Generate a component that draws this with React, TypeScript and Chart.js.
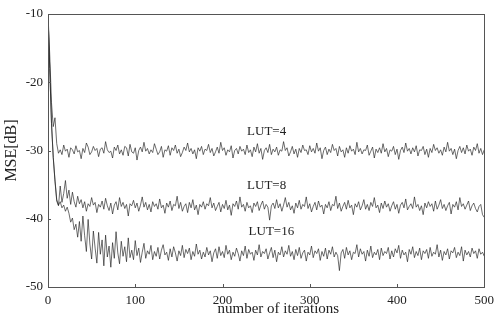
import React, { useEffect, useRef } from "react";
import { Chart, registerables } from "chart.js";

Chart.register(...registerables);

const STEP = 2;

const lut4: number[] = [
  -10, -16, -23, -26.5, -25.2, -29.0, -30.4, -29.9, -30.6, -29.2,
  -30.1, -29.8, -31.0, -29.6, -29.9, -30.5, -29.3, -30.2, -30.0, -31.2,
  -29.7, -30.3, -28.9, -29.5, -30.6, -30.2, -29.4, -30.0, -29.7, -30.9,
  -29.8, -29.6, -30.4, -28.7, -29.9, -30.3, -30.1, -31.1, -29.5, -30.0,
  -29.2, -30.5, -29.9, -30.7, -29.4, -29.6, -30.8, -29.1, -30.2, -30.4,
  -29.6, -31.4, -30.0, -29.5, -30.2, -28.8, -30.1, -29.7, -30.5, -29.9,
  -30.3, -29.0, -29.8, -30.6, -30.2, -29.4, -31.0, -29.9, -30.1, -29.3,
  -30.7, -29.6, -30.0, -29.2, -30.4, -29.8, -30.9, -30.3, -29.5, -30.0,
  -28.9, -30.2, -29.7, -30.5, -29.9, -31.2, -29.6, -30.1, -29.4, -30.6,
  -29.8, -30.0, -29.1, -30.3, -29.7, -30.8, -30.2, -29.5, -30.4, -28.8,
  -30.0, -29.6, -30.7, -29.9, -30.2, -29.3, -31.1, -30.0, -29.7, -30.5,
  -29.4, -30.1, -29.8, -30.6, -29.2, -30.3, -29.9, -30.9, -29.5, -30.2,
  -29.0, -30.4, -29.7, -31.3, -30.0, -29.6, -30.3, -29.1, -30.6, -29.8,
  -30.2, -29.5, -30.7, -29.9, -30.1, -28.7, -30.0, -29.6, -30.8, -30.2,
  -29.4, -30.5, -29.8, -31.0, -29.7, -30.3, -29.2, -30.0, -29.9, -30.6,
  -29.3, -30.2, -29.7, -30.4, -28.9, -30.1, -29.6, -31.2, -30.0, -29.5,
  -30.6, -29.8, -30.3, -29.1, -30.0, -29.7, -30.8, -29.4, -30.2, -29.9,
  -31.0, -29.6, -30.4, -29.3, -30.1, -29.8, -30.6, -28.8, -30.2, -29.7,
  -30.5, -29.9, -30.0, -29.2, -30.7, -30.1, -29.5, -31.1, -29.8, -30.3,
  -29.6, -30.4, -29.0, -30.2, -29.7, -30.9, -29.9, -30.1, -29.4, -30.6,
  -29.8, -31.3, -30.0, -29.5, -30.3, -28.9, -30.1, -29.7, -30.5, -29.6,
  -30.2, -29.3, -30.8, -29.9, -30.0, -29.4, -30.6, -29.8, -31.0, -29.7,
  -30.3, -29.1, -30.0, -29.6, -30.4, -29.9, -30.7, -29.5, -30.2, -28.8,
  -30.1, -29.7, -30.6, -29.8, -31.2, -30.0, -29.4, -30.3, -29.6, -30.5,
  -29.2, -30.1, -29.8, -30.7, -29.5, -30.0, -29.0, -30.4, -29.7, -30.6, -29.9,
];

const lut8: number[] = [
  -10, -18, -26, -31, -34.5, -37.4, -38.1, -35.2, -37.6, -36.3,
  -34.4, -37.0, -35.8, -37.9, -36.1, -37.5, -38.3, -36.7, -37.8, -37.2,
  -38.4, -37.5, -38.9, -37.8, -38.2, -36.9, -38.0, -37.6, -39.1, -37.9,
  -38.3, -37.4, -38.6, -37.0, -38.1, -38.8, -37.7, -39.3, -38.0, -37.5,
  -38.7, -36.9, -38.2, -37.6, -38.5, -37.9, -39.6, -37.8, -38.1, -37.3,
  -38.4, -37.7, -38.9, -38.0, -36.8, -38.3, -37.6, -38.7, -37.9, -39.0,
  -37.5, -38.2, -37.8, -38.6, -37.1, -38.4, -38.0, -39.2, -37.7, -38.3,
  -37.4, -38.8, -37.9, -38.1, -36.7, -38.5, -37.6, -38.9, -38.2, -37.8,
  -39.1, -37.6, -38.4, -37.2, -38.7, -38.0, -39.4, -37.9, -38.3, -37.5,
  -38.6, -37.8, -38.1, -36.9, -38.4, -37.7, -38.8, -38.2, -37.6, -39.0,
  -37.9, -38.5, -37.3, -38.7, -38.0, -39.5, -37.8, -38.2, -37.4, -38.6,
  -36.8, -38.3, -37.9, -38.9, -37.6, -38.4, -38.1, -39.1, -37.7, -38.2,
  -37.5, -38.8, -38.0, -37.4, -38.6, -37.9, -38.3, -40.2, -38.1, -37.7,
  -38.5, -37.2, -38.4, -37.8, -38.9, -38.0, -36.9, -38.3, -37.6, -38.7,
  -38.1, -39.2, -37.7, -38.4, -37.3, -38.6, -37.9, -38.2, -36.8, -38.5,
  -37.8, -39.0, -38.2, -37.6, -38.7, -37.4, -38.3, -38.0, -39.3, -37.9,
  -38.4, -37.5, -38.8, -37.9, -38.1, -36.7, -38.5, -37.7, -38.9, -38.2,
  -37.6, -38.6, -37.3, -38.4, -38.0, -39.4, -37.8, -38.3, -37.5, -38.7,
  -38.1, -37.2, -38.6, -37.9, -38.8, -37.6, -38.2, -36.9, -38.4, -38.0,
  -39.1, -37.7, -38.5, -37.4, -38.3, -37.8, -38.9, -38.1, -37.5, -38.6,
  -37.9, -39.2, -38.0, -37.6, -38.4, -37.1, -38.7, -38.2, -37.8, -38.5,
  -36.8, -38.3, -37.9, -38.8, -38.1, -39.4, -37.7, -38.4, -37.5, -38.2,
  -37.8, -38.9, -37.4, -38.6, -38.0, -37.2, -38.5, -37.9, -38.8, -38.1,
  -37.6, -39.3, -37.9, -38.3, -37.5, -38.7, -36.9, -38.2, -37.8, -38.6,
  -38.0, -37.4, -38.8, -38.1, -37.7, -38.5, -39.0, -38.2, -37.9, -39.4, -39.8,
];

const lut16: number[] = [
  -10, -18, -26, -31, -34.3, -37.2, -38.0, -37.5, -38.4, -38.0,
  -38.9, -38.3, -39.2, -40.5, -39.9, -41.6, -40.8, -42.7, -40.4, -43.3,
  -39.6, -42.5, -44.8, -40.1, -43.7, -45.9, -41.8, -44.3, -46.5, -42.0,
  -45.2, -43.1, -46.9, -42.4, -45.6, -44.0, -47.1, -43.5, -45.8, -41.9,
  -45.0, -46.6, -43.3, -45.5, -44.1, -46.3, -42.8, -45.7, -44.6, -46.0,
  -43.2, -45.4, -44.3, -46.4, -44.9, -43.6, -45.8, -44.7, -45.2, -43.9,
  -46.0, -44.8, -45.5, -44.2, -45.9, -44.6, -43.8, -45.3, -44.9, -46.1,
  -44.4, -45.6, -44.1, -45.0, -46.2, -44.7, -45.4, -43.9, -45.7, -44.5,
  -45.1, -44.3, -46.0, -44.8, -45.5, -43.7, -45.2, -44.6, -45.9, -44.9,
  -45.6, -44.2, -45.3, -44.7, -46.3, -45.0, -44.4, -45.8, -44.1, -45.4,
  -44.8, -45.7, -43.9, -45.2, -44.6, -46.0, -44.9, -45.5, -44.3, -45.1,
  -46.2, -44.7, -45.4, -44.0, -45.8, -44.5, -45.2, -44.9, -46.1, -44.6,
  -45.3, -43.8, -45.6, -44.8, -45.1, -44.4, -45.9, -45.0, -44.2, -45.7,
  -44.6, -46.3, -44.9, -45.3, -44.1, -45.6, -44.7, -45.2, -43.9, -45.5,
  -44.8, -46.0, -44.5, -45.4, -44.2, -45.8, -45.0, -44.6, -46.2, -44.9,
  -45.3, -44.0, -45.7, -44.7, -45.1, -44.4, -46.1, -44.8, -45.5, -44.3,
  -45.9, -44.6, -45.2, -44.1, -45.6, -44.9, -45.4, -47.6, -45.0, -44.5,
  -45.8, -44.2, -45.3, -44.7, -46.0, -44.9, -45.1, -43.8, -45.6, -44.4,
  -45.2, -44.8, -46.2, -44.6, -45.5, -44.0, -45.7, -44.9, -45.3, -44.5,
  -46.0, -44.3, -45.4, -44.8, -45.1, -44.2, -45.9, -44.7, -45.6, -44.4,
  -45.0, -43.9, -45.8, -44.6, -45.3, -44.9, -46.3, -44.5, -45.2, -44.1,
  -45.7, -44.8, -45.4, -44.3, -46.0, -44.7, -45.1, -44.5, -45.8, -44.2,
  -45.5, -44.9, -45.2, -43.8, -45.6, -44.6, -46.1, -44.8, -45.3, -44.4,
  -45.9, -44.7, -45.0, -44.2, -45.7, -44.9, -45.4, -44.1, -46.2, -44.6,
  -45.3, -44.8, -45.6, -44.3, -45.1, -44.7, -45.8, -44.4, -45.2, -44.9, -45.5,
];

const seriesLabels = ["LUT=4", "LUT=8", "LUT=16"];
const labelX = [250.6, 250.6, 256];
const labelY = [-27.3, -35.2, -41.9];
const xTicks = [0, 100, 200, 300, 400, 500];
const yTicks = [-10, -20, -30, -40, -50];
const xTitle = "number of iterations";
const yTitle = "MSE[dB]";

const FONT = "'Liberation Serif', 'Times New Roman', serif";
const LINE = "rgba(30,30,30,0.82)";

const toPoints = (arr: number[]) => arr.map((y, i) => ({ x: i * STEP, y }));

const annotPlugin = {
  id: "annot",
  afterDatasetsDraw(chart: any) {
    const { ctx, chartArea, scales } = chart;
    const xs = scales.x;
    const ys = scales.y;
    ctx.save();
    ctx.strokeStyle = "#555";
    ctx.lineWidth = 1;
    ctx.strokeRect(
      Math.round(chartArea.left) + 0.5,
      Math.round(chartArea.top) + 0.5,
      Math.round(chartArea.right - chartArea.left),
      Math.round(chartArea.bottom - chartArea.top)
    );
    ctx.beginPath();
    xTicks.forEach((v) => {
      const px = Math.round(xs.getPixelForValue(v)) + 0.5;
      ctx.moveTo(px, chartArea.bottom);
      ctx.lineTo(px, chartArea.bottom - 3);
    });
    yTicks.forEach((v) => {
      const py = Math.round(ys.getPixelForValue(v)) + 0.5;
      ctx.moveTo(chartArea.left, py);
      ctx.lineTo(chartArea.left + 3, py);
    });
    ctx.stroke();
    ctx.fillStyle = "#222";
    ctx.font = `13px ${FONT}`;
    ctx.textAlign = "center";
    ctx.textBaseline = "middle";
    seriesLabels.forEach((t, i) => {
      ctx.fillText(t, xs.getPixelForValue(labelX[i]), ys.getPixelForValue(labelY[i]));
    });
    ctx.font = `15px ${FONT}`;
    ctx.fillText(xTitle, xs.getPixelForValue(264), chartArea.bottom + 22);
    ctx.restore();
  },
};

export default function App() {
  const ref = useRef<HTMLCanvasElement | null>(null);
  useEffect(() => {
    if (!ref.current) return;
    const ds = [lut4, lut8, lut16].map((arr, i) => ({
      label: seriesLabels[i],
      data: toPoints(arr),
      borderColor: LINE,
      borderWidth: 0.8,
      pointRadius: 0,
      fill: false,
      tension: 0,
    }));
    const chart = new Chart(ref.current, {
      type: "line",
      data: { datasets: ds },
      options: {
        animation: false,
        responsive: false,
        maintainAspectRatio: false,
        layout: { padding: { top: 14, right: 11, left: 0, bottom: 0 } },
        plugins: { legend: { display: false }, tooltip: { enabled: false } },
        scales: {
          x: {
            type: "linear",
            min: 0,
            max: 500,
            afterFit: (s: any) => {
              s.height = 38;
            },
            afterBuildTicks: (s: any) => {
              s.ticks = xTicks.map((v) => ({ value: v }));
            },
            grid: { display: false, drawTicks: false },
            border: { display: false },
            ticks: {
              padding: 6,
              color: "#222",
              font: { family: FONT, size: 13 },
              maxRotation: 0,
            },
            title: { display: false },
          },
          y: {
            type: "linear",
            min: -50,
            max: -10,
            afterFit: (s: any) => {
              s.width = 48;
            },
            afterBuildTicks: (s: any) => {
              s.ticks = yTicks.map((v) => ({ value: v }));
            },
            grid: { display: false, drawTicks: false },
            border: { display: false },
            ticks: {
              padding: 5,
              color: "#222",
              font: { family: FONT, size: 13 },
            },
            title: {
              display: true,
              text: yTitle,
              color: "#222",
              font: { family: FONT, size: 16 },
              padding: { top: 2, bottom: 0 },
            },
          },
        },
      },
      plugins: [annotPlugin],
    });
    return () => chart.destroy();
  }, []);
  return (
    <div style={{ position: "fixed", left: 0, top: 0, width: 500, height: 325, background: "#fff" }}>
      <canvas ref={ref} width={500} height={325} style={{ width: 500, height: 325, display: "block" }} />
    </div>
  );
}
